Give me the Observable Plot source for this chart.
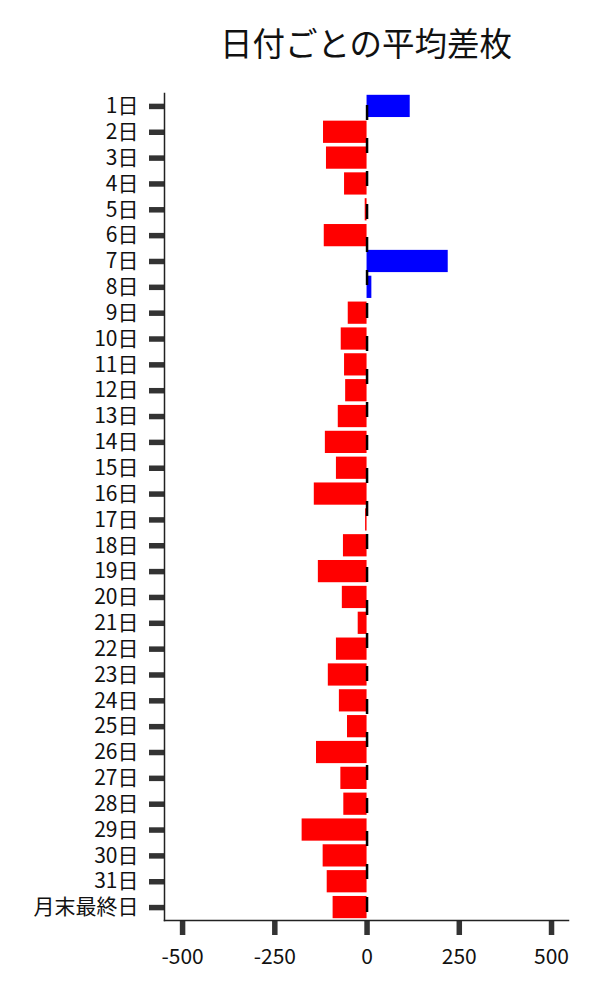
<!DOCTYPE html>
<html><head><meta charset="utf-8">
<script src="https://cdn.jsdelivr.net/npm/d3@7"></script>
<script src="https://cdn.jsdelivr.net/npm/@observablehq/plot@0.6"></script>
<style>
body{margin:0;background:#fff;font-family:'Noto Sans CJK JP',sans-serif;}
#title{height:80px;line-height:84px;padding-left:132px;width:468px;text-align:center;font-size:32.5px;color:#111;}
</style></head>
<body>
<div id="title">日付ごとの平均差枚</div>
<div id="chart"></div>
<script>
const days = ["1日","2日","3日","4日","5日","6日","7日","8日","9日","10日","11日","12日","13日","14日","15日","16日","17日","18日","19日","20日","21日","22日","23日","24日","25日","26日","27日","28日","29日","30日","31日","月末最終日"];
const values = [117,-118,-110,-61,-5,-116,220,13,-51,-70,-61,-58,-78,-113,-83,-143,-4,-64,-132,-67,-24,-83,-105,-75,-53,-137,-71,-63,-176,-119,-108,-92];
const xTicks = [-500,-250,0,250,500];
const xDomain = [-549,546];
const data = days.map((d,i)=>({day:d, value:values[i]}));

const chart = Plot.plot({
  width:600, height:910,
  marginTop:13, marginBottom:70, marginLeft:164, marginRight:32,
  style:{fontFamily:"'Noto Sans CJK JP',sans-serif", fontSize:"21px", color:"#111"},
  x:{domain:xDomain},
  y:{domain:days, paddingInner:0.14, paddingOuter:0.07, round:false},
  marks:[
    Plot.barX(data.filter(d=>d.value>=0),{x:"value",y:"day",fill:"#0000ff"}),
    Plot.barX(data.filter(d=>d.value<0),{x:"value",y:"day",fill:"#ff0000"}),
    Plot.ruleX([0],{stroke:"black",strokeWidth:2.5,strokeDasharray:"15,18",strokeDashoffset:21}),
    Plot.axisY({tickSize:15,tickPadding:11,strokeWidth:5.5,stroke:"#333",fontSize:21,label:null}),
    Plot.axisX({ticks:xTicks,tickSize:15,tickPadding:14,strokeWidth:5.5,stroke:"#333",fontSize:21,label:null,tickFormat:d=>String(d)}),
    Plot.frame({anchor:"left",stroke:"#222",strokeWidth:1.5}),
    Plot.frame({anchor:"bottom",stroke:"#222",strokeWidth:1.5})
  ]
});
document.getElementById("chart").appendChild(chart);
</script>
</body></html>
